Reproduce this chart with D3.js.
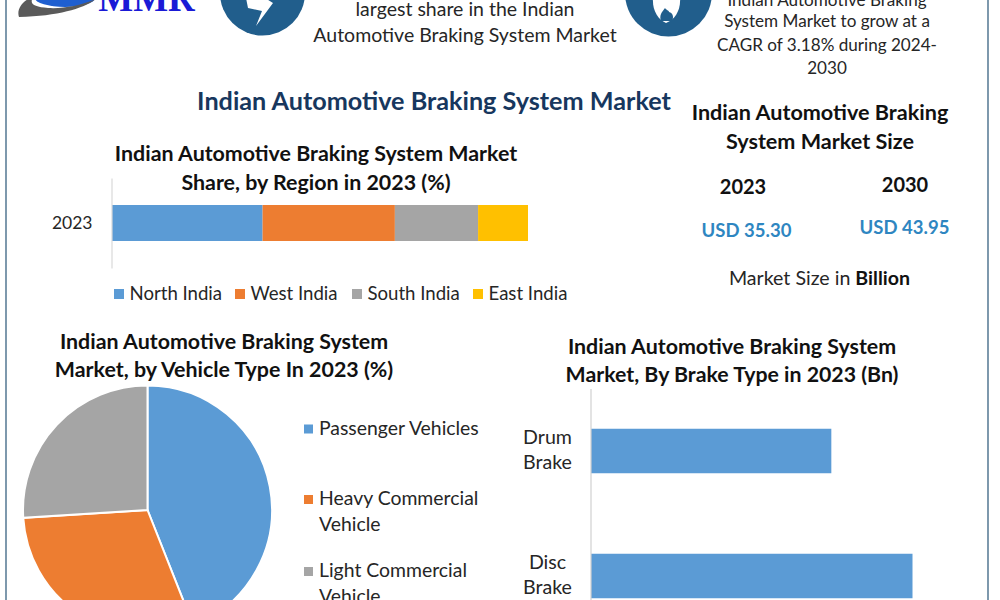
<!DOCTYPE html>
<html>
<head>
<meta charset="utf-8">
<style>
html,body{margin:0;padding:0;background:#fff;overflow:hidden}
svg{display:block}
text{font-family:Lato,"Open Sans",sans-serif}
</style>
<script src="https://cdn.jsdelivr.net/npm/d3@7"></script>
</head>
<body>
<svg id="chart" width="1000" height="600"></svg>
<script>
// Regional share, 2023 (%)
const regions = ["North India", "West India", "South India", "East India"];
const regionShare = [36.2, 31.8, 20, 12];
const regionYear = ["2023"];

// Vehicle type share, 2023 (%)
const vehicleTypes = [["Passenger Vehicles"], ["Heavy Commercial", "Vehicle"], ["Light Commercial", "Vehicle"]];
const vehicleShare = [44, 30, 26];

// Brake type size, 2023 (USD bn)
const brakeTypes = ["Drum Brake", "Disc Brake"];
const brakeValues = [15.1, 20.2];

// Market size headline figures
const sizeYears = ["2023", "2030"];
const sizeValues = ["USD 35.30", "USD 43.95"];

const blue = "#5b9bd5", orange = "#ed7d31", grey = "#a5a5a5", gold = "#ffc000";
const ink = "#262626", black = "#111";
const svg = d3.select("#chart");

function label(x, y, str, size, opts = {}) {
  return svg.append("text")
    .attr("x", x).attr("y", y + 0.8).text(str)
    .attr("font-size", size)
    .attr("font-weight", opts.weight || 400)
    .attr("fill", opts.fill || ink)
    .attr("text-anchor", opts.anchor || "middle");
}

// Page frame
svg.append("line").attr("x1", 6).attr("x2", 6).attr("y1", 0).attr("y2", 600)
  .attr("stroke", "#5d7f99").attr("stroke-width", 1.6);
svg.append("line").attr("x1", 988).attr("x2", 988).attr("y1", 0).attr("y2", 600)
  .attr("stroke", "#5d7f99").attr("stroke-width", 1.6);

// Logo
const logo = svg.append("g");
logo.append("ellipse").attr("cx", 65).attr("cy", -2).attr("rx", 30).attr("ry", 9)
  .attr("fill", "#1f5fd0");
logo.append("path")
  .attr("d", "M19,17 C16,8 24,0 34,-4 C28,4 34,7 48,8 C64,9 82,5 96,-1 C84,8 60,16 19,17 Z")
  .attr("fill", "#5a5a5a");
label(146.5, 10, "MMR", 37, { fill: "#1a1ad6", weight: 700 })
  .style("font-family", "'Liberation Serif',serif");

// Headline badges
const badge = "#215e8c";
svg.append("circle").attr("cx", 262.5).attr("cy", -7).attr("r", 42.5).attr("fill", badge);
svg.append("path").attr("d", "M246,-2 L248,8 L262,11 L256,26 L273,3 L265,-2 Z").attr("fill", "#fff");
svg.append("circle").attr("cx", 668.5).attr("cy", -7).attr("r", 43.5).attr("fill", badge);
svg.append("path").attr("d", "M653,-2 C652,10 658,20 666,23 C675,20 681,10 680,-2 Z").attr("fill", "#fff");
svg.append("path").attr("d", "M661,21 C659,15 662,12 665,8 C667,11 669,10 669,12 C673,13 674,17 672,21 Z").attr("fill", badge);

// Headline copy
label(465, 15, "largest share in the Indian", 19.5);
label(465, 41, "Automotive Braking System Market", 19.5);
label(827, 5, "Indian Automotive Braking", 17.1);
label(827, 26, "System Market to grow at a", 17.1);
label(827, 50, "CAGR of 3.18% during 2024-", 17.1);
label(827, 73, "2030", 17.1);

label(434, 109, "Indian Automotive Braking System Market", 25.2, { weight: 700, fill: "#17375e" });

// Regional stacked bar
label(316, 160, "Indian Automotive Braking System Market", 21.4, { weight: 700, fill: black });
label(316, 189, "Share, by Region in 2023 (%)", 21.4, { weight: 700, fill: black });

const regionX = d3.scaleLinear().domain([0, d3.sum(regionShare)]).range([112, 528]);
const regionY = d3.scaleBand().domain(regionYear).range([178, 268]).paddingInner(0).paddingOuter(0.3);
const regionColor = d3.scaleOrdinal().domain(regions).range([blue, orange, grey, gold]);
const cumulative = d3.cumsum(regionShare);
svg.selectAll("rect.region").data(regions).join("rect").attr("class", "region")
  .attr("x", (d, i) => regionX(i ? cumulative[i - 1] : 0))
  .attr("width", (d, i) => regionX(regionShare[i]) - regionX(0))
  .attr("y", regionY(regionYear[0]) + 0.5 * (regionY.bandwidth() - 36))
  .attr("height", 36)
  .attr("fill", d => regionColor(d));
const regionAxis = svg.append("g").attr("transform", "translate(111.5,0)")
  .call(d3.axisLeft(regionY).tickSize(0).tickPadding(19));
regionAxis.select(".domain").attr("stroke", "#d9d9d9").attr("stroke-width", 1.2);
regionAxis.selectAll("text").attr("font-size", 17.5).attr("fill", ink).style("font-family", "Lato");

const regionLegend = [114, 235, 352, 473];
regions.forEach((r, i) => {
  svg.append("rect").attr("x", regionLegend[i]).attr("y", 289).attr("width", 10).attr("height", 10).attr("fill", regionColor(r));
  label(regionLegend[i] + 15.5, 299.5, r, 18.6, { anchor: "start" });
});

// Vehicle type pie
label(224, 348, "Indian Automotive Braking System", 21.4, { weight: 700, fill: black });
label(224, 376, "Market, by Vehicle Type In 2023 (%)", 21.4, { weight: 700, fill: black });

const pie = d3.pie().sort(null).value(d => d);
const arc = d3.arc().innerRadius(0).outerRadius(124.5);
const vehicleColor = [blue, orange, grey];
svg.append("g").attr("transform", "translate(147.5,510)")
  .selectAll("path").data(pie(vehicleShare)).join("path")
  .attr("d", arc)
  .attr("fill", (d, i) => vehicleColor[i])
  .attr("stroke", "#fff").attr("stroke-width", 2);

const legendRows = [434, 504.5, 576.5];
vehicleTypes.forEach((lines, i) => {
  svg.append("rect").attr("x", 304).attr("y", legendRows[i] - 9.5).attr("width", 9).attr("height", 9).attr("fill", vehicleColor[i]);
  lines.forEach((t, j) => label(319, legendRows[i] + j * 25.5, t, 19.4, { anchor: "start" }));
});

// Brake type bars
label(732, 353, "Indian Automotive Braking System", 21.4, { weight: 700, fill: black });
label(732, 381, "Market, By Brake Type in 2023 (Bn)", 21.3, { weight: 700, fill: black });

const brakeX = d3.scaleLinear().domain([0, d3.max(brakeValues)]).range([591, 912.5]);
const brakeY = d3.scaleBand().domain(brakeTypes).range([388.5, 638.5]).paddingInner(0.644).paddingOuter(0.322);
svg.selectAll("rect.brake").data(brakeTypes).join("rect").attr("class", "brake")
  .attr("x", brakeX(0))
  .attr("y", d => brakeY(d))
  .attr("width", (d, i) => brakeX(brakeValues[i]) - brakeX(0))
  .attr("height", brakeY.bandwidth())
  .attr("fill", blue);
const brakeAxis = svg.append("g").attr("transform", "translate(590.5,0)")
  .call(d3.axisLeft(brakeY).tickSize(0).tickFormat(""));
brakeAxis.select(".domain").attr("stroke", "#d0d0d0").attr("stroke-width", 1.2);
brakeTypes.forEach(b => {
  const mid = brakeY(b) + brakeY.bandwidth() / 2;
  b.split(" ").forEach((w, j) => label(547.5, mid - 8 + j * 25.5, w, 19.6));
});

// Market size panel
label(820, 119, "Indian Automotive Braking", 21.6, { weight: 700, fill: black });
label(820, 148, "System Market Size", 21.6, { weight: 700, fill: black });
const yearX = [743, 905], valueX = [746.5, 904.5], yearY = [193, 191], valueY = [236, 233.5];
sizeYears.forEach((y, i) => {
  label(yearX[i], yearY[i], y, 20, { weight: 700, fill: black });
  label(valueX[i], valueY[i], sizeValues[i], 18.5, { weight: 700, fill: "#2e86c1" });
});
const sizeNote = label(819.5, 284, "", 19.6);
sizeNote.append("tspan").text("Market Size in ");
sizeNote.append("tspan").attr("font-weight", 700).attr("fill", black).text("Billion");
</script>
</body>
</html>
